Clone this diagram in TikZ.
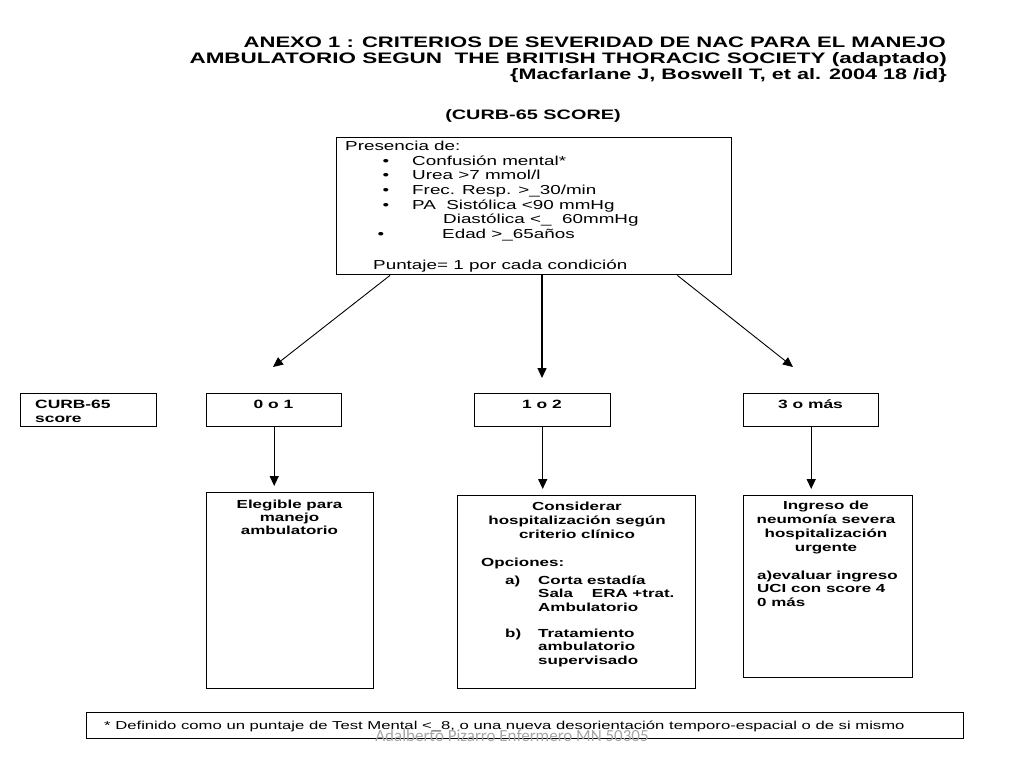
\documentclass[tikz,border=0pt]{standalone}
\usepackage{fontspec}
\usepackage{graphicx}
\setmainfont{Liberation Sans}[FakeStretch=1.45]
\newfontfamily\wmfont{Carlito}
\usetikzlibrary{arrows.meta}
\begin{document}
\begin{tikzpicture}[x=1pt,y=-1pt,
  box/.style={draw, line width=1.4pt, inner sep=0pt, anchor=north west},
  arr/.style={line width=1.3pt, -{Triangle[length=10pt,width=9pt]}},
  darr/.style={line width=0.9pt, -{Triangle[length=10pt,width=9pt]}},
  ttl/.style={font=\bfseries\fontsize{15.2}{16}\selectfont, inner sep=0pt, anchor=base east},
  tb/.style={font=\fontsize{13}{15}\selectfont, inner sep=0pt, anchor=base west},
  sc/.style={font=\bfseries\fontsize{12}{14}\selectfont, inner sep=0pt},
  bb/.style={font=\bfseries\fontsize{11.7}{13}\selectfont, inner sep=0pt},
  ft/.style={font=\fontsize{11.5}{13}\selectfont, inner sep=0pt, anchor=base west}]
\useasboundingbox (0,0) rectangle (1024,768);
\fill[white] (0,0) rectangle (1024,768);

% title
\node[ttl] (t1) at (946,47.5) {ANEXO 1 : CRITERIOS DE SEVERIDAD DE NAC PARA EL MANEJO};
\node[ttl] (t2) at (947,63.5) {\scalebox{1.02}[1]{AMBULATORIO SEGUN\ \ THE BRITISH THORACIC SOCIETY (adaptado)}};
\node[ttl] (t3) at (947,79.5) {\scalebox{0.98}[1]{\{Macfarlane J, Boswell T, et al. 2004 18 /id\}}};
\node[ttl, anchor=base, font=\bfseries\fontsize{13.7}{15}\selectfont] (t4) at (533,119) {(CURB-65 SCORE)};

% top box
\node[box, minimum width=395pt, minimum height=137pt] (top) at (336,137) {};
\node[tb] (p0) at (345,150.7) {Presencia de:};
\node[tb, anchor=base] (u1) at (386,165.3) {\textbullet};
\node[tb] (p1) at (412,165.3) {Confusión mental*};
\node[tb, anchor=base] (u2) at (386,179.9) {\textbullet};
\node[tb] (p2) at (412,179.9) {Urea >7 mmol/l};
\node[tb, anchor=base] (u3) at (386,194.5) {\textbullet};
\node[tb] (p3) at (412,194.5) {Frec. Resp. >\_30/min};
\node[tb, anchor=base] (u4) at (386,209.1) {\textbullet};
\node[tb] (p4) at (412,209.1) {PA\ \ Sistólica <90 mmHg};
\node[tb] (p5) at (443,223.7) {Diastólica <\_\ \ 60mmHg};
\node[tb, anchor=base] (u6) at (381,238.3) {\textbullet};
\node[tb] (p6) at (442,238.3) {Edad >\_65años};
\node[tb] (p7) at (373,269.7) {Puntaje= 1 por cada condición};

% score boxes
\node[box, minimum width=136pt, minimum height=33pt] (curb) at (20,393) {};
\node[sc, anchor=base west] (c1) at (35,408.3) {CURB-65};
\node[sc, anchor=base west] (c2) at (35,422.3) {score};
\node[box, minimum width=135pt, minimum height=33pt] (s01) at (206,393) {};
\node[sc, anchor=base] (l01) at (273.5,408.3) {0 o 1};
\node[box, minimum width=136pt, minimum height=33pt] (s12) at (474,393) {};
\node[sc, anchor=base] (l12) at (542,408.3) {1 o 2};
\node[box, minimum width=135pt, minimum height=33pt] (s3) at (743,393) {};
\node[sc, anchor=base] (l3) at (810.5,408.3) {3 o más};

% arrows from top box
\coordinate (e1) at (273,367);
\coordinate (e2) at (542,378);
\coordinate (e3) at (793,367);
\draw[darr] ([xshift=54pt]top.south west) -- (e1);
\draw[arr] (top.south -| e2) -- (e2);
\draw[darr] ([xshift=-55pt]top.south east) -- (e3);

% bottom boxes
\node[box, minimum width=167pt, minimum height=196pt] (b1) at (206,492) {};
\node[box, minimum width=238pt, minimum height=193pt] (b2) at (457,495) {};
\node[box, minimum width=169pt, minimum height=182pt] (b3) at (743,495) {};

\draw[arr, shorten >=6pt] (s01.south) -- (s01.south |- b1.north);
\draw[arr, shorten >=6pt] (s12.south) -- (s12.south |- b2.north);
\draw[arr, shorten >=6pt] (s3.south) -- (s3.south |- b3.north);

% box 1 text
\node[bb, anchor=base] (x1) at (289.5,508.2) {Elegible para};
\node[bb, anchor=base] (x2) at (289.5,521.2) {manejo};
\node[bb, anchor=base] (x3) at (289.5,534.2) {ambulatorio};

% box 2 text
\node[bb, anchor=base] (y1) at (577,510.2) {Considerar};
\node[bb, anchor=base] (y2) at (577,524.2) {hospitalización según};
\node[bb, anchor=base] (y3) at (577,538.2) {criterio clínico};
\node[bb, anchor=base west] (y4) at (481,566.2) {Opciones:};
\node[bb, anchor=base west] (y5) at (505,584.2) {a)};
\node[bb, anchor=base west] (y6) at (538,584.2) {Corta estadía};
\node[bb, anchor=base west] (y7) at (538,597.7) {Sala\ \ \ \ ERA +trat.};
\node[bb, anchor=base west] (y8) at (538,611.2) {Ambulatorio};
\node[bb, anchor=base west] (y9) at (505,637.2) {b)};
\node[bb, anchor=base west] (y10) at (538,637.2) {Tratamiento};
\node[bb, anchor=base west] (y11) at (538,650.7) {ambulatorio};
\node[bb, anchor=base west] (y12) at (538,664.2) {supervisado};

% box 3 text
\node[bb, anchor=base] (z1) at (826,509.2) {Ingreso de};
\node[bb, anchor=base] (z2) at (826,523.2) {neumonía severa};
\node[bb, anchor=base] (z3) at (826,537.2) {hospitalización};
\node[bb, anchor=base] (z4) at (826,551.2) {urgente};
\node[bb, anchor=base west] (z5) at (757,579.2) {a)evaluar ingreso};
\node[bb, anchor=base west] (z6) at (757,592.7) {UCI con score 4};
\node[bb, anchor=base west] (z7) at (757,606.2) {0 más};

% footer
\node[box, minimum width=877pt, minimum height=26pt, line width=1.2pt] (foot) at (86,712) {};
\node[ft] (f1) at (104,729) {* Definido como un puntaje de Test Mental <\_8, o una nueva desorientación temporo-espacial o de si mismo};
\node[inner sep=0pt, anchor=base, text=black!35, font=\wmfont\fontsize{17}{19}\selectfont] (wm) at (512,741) {Adalberto Pizarro Enfermero MN 50305};
\end{tikzpicture}
\end{document}
